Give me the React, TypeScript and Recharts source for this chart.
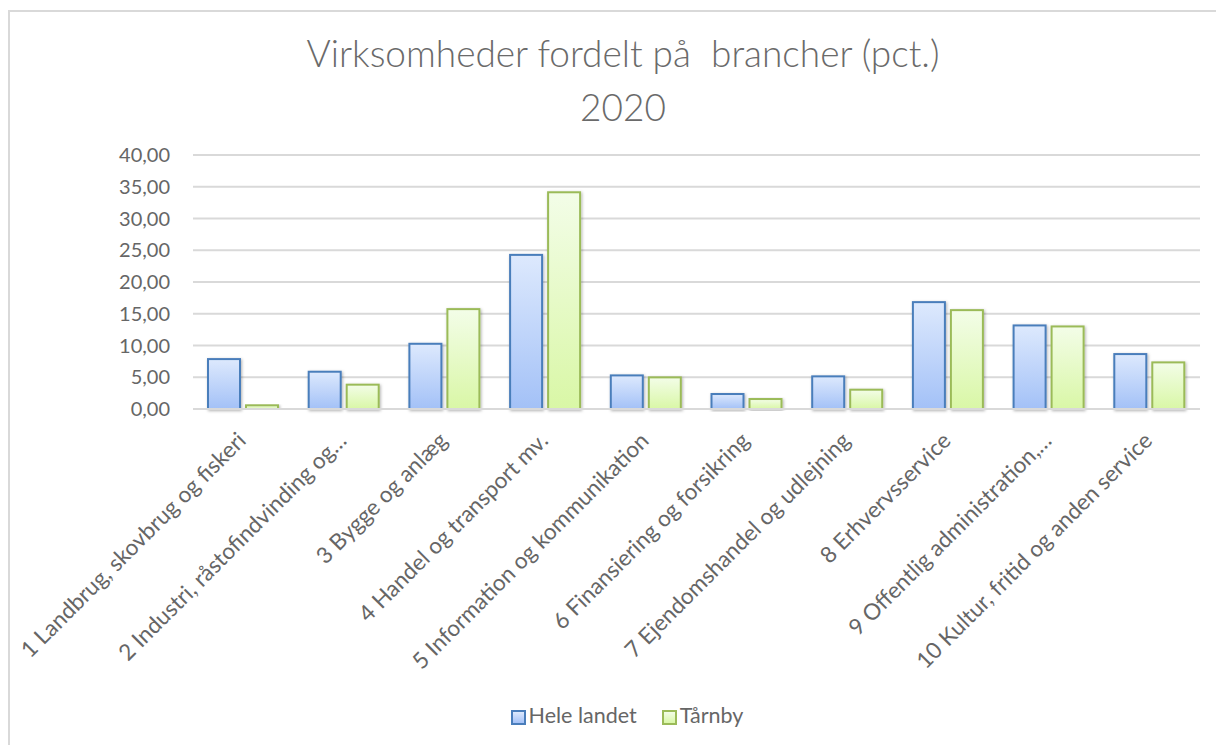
import React from 'react';
import { Bar, BarChart, CartesianGrid, Legend, XAxis, YAxis } from 'recharts';

const categories = [
  '1 Landbrug, skovbrug og fiskeri',
  '2 Industri, råstofindvinding og…',
  '3 Bygge og anlæg',
  '4 Handel og transport mv.',
  '5 Information og kommunikation',
  '6 Finansiering og forsikring',
  '7 Ejendomshandel og udlejning',
  '8 Erhvervsservice',
  '9 Offentlig administration,…',
  '10 Kultur, fritid og anden service',
];

const heleLandet = [7.86, 5.87, 10.27, 24.27, 5.29, 2.36, 5.14, 16.83, 13.16, 8.65];
const taarnby = [0.58, 3.83, 15.73, 34.13, 4.98, 1.57, 3.04, 15.57, 13.0, 7.34];

const yTicks = [0, 5, 10, 15, 20, 25, 30, 35, 40];

const FONT = 'Lato, "Open Sans", sans-serif';
const TEXT = '#666666';
const GRID = '#d9d9d9';

const data = categories.map((name, i) => ({
  name,
  hele: heleLandet[i],
  taarnby: taarnby[i],
}));

const fmt = (v: number) => v.toFixed(2).replace('.', ',');

function BlueBar(props: any) {
  const { x, y, width, height } = props;
  return (
    <rect
      x={x}
      y={y}
      width={width}
      height={height}
      fill="url(#gradBlue)"
      stroke="#4a7ebb"
      strokeWidth={2}
      filter="url(#barShadow)"
    />
  );
}

function GreenBar(props: any) {
  const { x, y, width, height } = props;
  return (
    <rect
      x={x}
      y={y}
      width={width}
      height={height}
      fill="url(#gradGreen)"
      stroke="#9bbb59"
      strokeWidth={2}
      filter="url(#barShadow)"
    />
  );
}

function XTick(props: any) {
  const { x, y, payload } = props;
  const ax = x + 4;
  const ay = y + 31;
  return (
    <text
      x={ax}
      y={ay}
      transform={`rotate(-45, ${ax}, ${ay})`}
      textAnchor="end"
      fontFamily={FONT}
      fontSize={22.5}
      fill={TEXT}
    >
      {payload.value}
    </text>
  );
}

function LegendBox({ from, to, border }: { from: string; to: string; border: string }) {
  return (
    <span
      style={{
        display: 'inline-block',
        width: 11,
        height: 11,
        border: `2px solid ${border}`,
        background: `linear-gradient(${from}, ${to})`,
        marginRight: 3,
        verticalAlign: 'middle',
      }}
    />
  );
}

function ChartLegend() {
  return (
    <div
      style={{
        height: 30,
        display: 'flex',
        justifyContent: 'center',
        alignItems: 'center',
        fontFamily: FONT,
        fontSize: 21.5,
        color: TEXT,
      }}
    >
      <span style={{ marginRight: 25 }}>
        <LegendBox from="#dde9fd" to="#a3c1f7" border="#4a7ebb" />
        Hele landet
      </span>
      <span>
        <LegendBox from="#f3fde8" to="#d9f7a6" border="#9bbb59" />
        Tårnby
      </span>
    </div>
  );
}

export default function App() {
  return (
    <div
      style={{
        position: 'absolute',
        left: 0,
        top: 0,
        width: 1216,
        height: 745,
        overflow: 'hidden',
        background: '#fff',
      }}
    >
      <div
        style={{
          position: 'absolute',
          left: 8,
          top: 10,
          width: 1260,
          height: 800,
          border: `2px solid ${GRID}`,
        }}
      />
      <div
        style={{
          position: 'absolute',
          left: 0,
          top: 26,
          width: 1246,
          textAlign: 'center',
          fontFamily: FONT,
          fontWeight: 300,
          fontSize: 37,
          lineHeight: '54px',
          color: '#6a6a6a',
          whiteSpace: 'pre',
        }}
      >
        {'Virksomheder fordelt på  brancher (pct.)\n2020'}
      </div>
      <div style={{ position: 'absolute', left: 0, top: 0 }}>
        <BarChart
          width={1216}
          height={745}
          data={data}
          margin={{ top: 155, right: 16, left: 0, bottom: 15 }}
          barSize={32}
          barGap={6}
        >
          <defs>
            <linearGradient id="gradBlue" x1="0" y1="0" x2="0" y2="1">
              <stop offset="0%" stopColor="#dde9fd" />
              <stop offset="100%" stopColor="#a3c1f7" />
            </linearGradient>
            <linearGradient id="gradGreen" x1="0" y1="0" x2="0" y2="1">
              <stop offset="0%" stopColor="#f3fde8" />
              <stop offset="100%" stopColor="#d9f7a6" />
            </linearGradient>
            <filter id="barShadow" x="-20%" y="-20%" width="140%" height="140%">
              <feDropShadow dx="1" dy="1" stdDeviation="1.5" floodColor="#000" floodOpacity="0.3" />
            </filter>
          </defs>
          <CartesianGrid vertical={false} stroke={GRID} strokeWidth={2} />
          <XAxis
            dataKey="name"
            interval={0}
            height={291}
            tickLine={false}
            tickSize={0}
            axisLine={{ stroke: GRID, strokeWidth: 2 }}
            tick={<XTick />}
          />
          <YAxis
            width={193}
            domain={[0, 40]}
            ticks={yTicks}
            tickFormatter={fmt}
            axisLine={false}
            tickLine={false}
            tickSize={0}
            tickMargin={23}
            tick={{ fontFamily: FONT, fontSize: 20, fill: TEXT }}
          />
          <Legend
            verticalAlign="bottom"
            content={() => <ChartLegend />}
            wrapperStyle={{ left: 38, width: 1178 }}
          />
          <Bar dataKey="hele" name="Hele landet" shape={<BlueBar />} isAnimationActive={false} />
          <Bar dataKey="taarnby" name="Tårnby" shape={<GreenBar />} isAnimationActive={false} />
        </BarChart>
      </div>
    </div>
  );
}
